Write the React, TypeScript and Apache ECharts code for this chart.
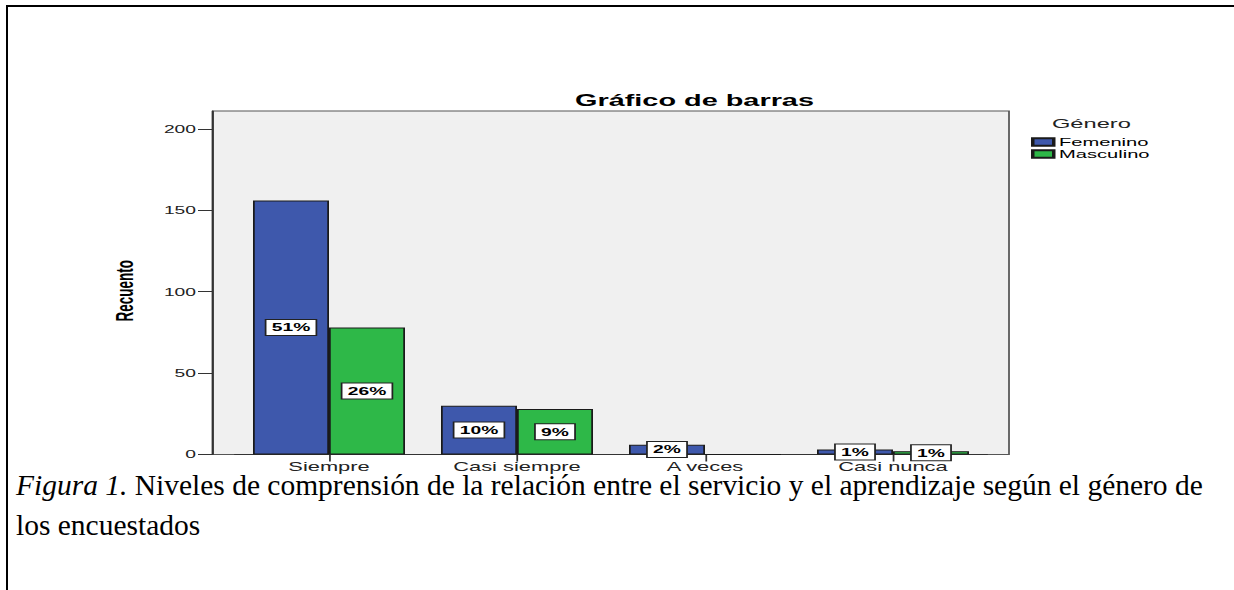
import React, { useEffect, useRef } from 'react';
import * as echarts from 'echarts';

// ---- data ----
const categories = ['Siempre', 'Casi siempre', 'A veces', 'Casi nunca'];
const femenino = [156, 30, 6, 3];
const masculino = [78, 28, 0, 2];
const femeninoPct = ['51%', '10%', '2%', '1%'];
const masculinoPct = ['26%', '9%', '', '1%'];
const yTicks = [0, 50, 100, 150, 200];
const seriesNames = ['Femenino', 'Masculino'];
const chartTitle = 'Gráfico de barras';
const legendTitle = 'Género';
const yName = 'Recuento';
const captionItalic = 'Figura 1.';
const captionLine1 = ' Niveles de comprensión de la relación entre el servicio y el aprendizaje según el género de';
const captionLine2 = 'los encuestados';

// ---- layout (the SPSS picture is stretched horizontally) ----
const W = 705;
const S = 1234 / W;
const px = (x: number) => x / S;
const FONT = 'Liberation Sans, Arial, sans-serif';
const SERIF = '"Liberation Serif", "Times New Roman", serif';

const labelStyle = {
  position: 'inside',
  color: '#000',
  fontWeight: 'bold',
  fontSize: 11,
  fontFamily: FONT,
  backgroundColor: '#fff',
  borderColor: '#222',
  borderWidth: 1,
  padding: [2, 3],
  lineHeight: 11,
};

function makeData(values: number[], labels: string[]) {
  return values.map((v, i) => ({
    value: v,
    label: { show: v > 0 && labels[i] !== '', formatter: labels[i] },
  }));
}

const option: any = {
  animation: false,
  title: [
    {
      text: chartTitle,
      left: px(575),
      top: 92,
      padding: 0,
      textStyle: { fontSize: 16.5, fontWeight: 'bold', color: '#000', fontFamily: FONT },
    },
    {
      text: legendTitle,
      left: px(1052),
      top: 116,
      padding: 0,
      textStyle: { fontSize: 13.5, fontWeight: 'normal', color: '#222', fontFamily: FONT },
    },
  ],
  legend: {
    orient: 'vertical',
    left: px(1031),
    top: 136,
    padding: 0,
    itemWidth: px(21),
    itemHeight: 7.3,
    itemGap: 0,
    icon: 'rect',
    data: seriesNames,
    textStyle: { fontSize: 11.5, lineHeight: 11.3, color: '#000', fontFamily: FONT, padding: [0, 0, 0, -2] },
  },
  grid: {
    left: px(235),
    right: W - px(987),
    top: 111,
    bottom: 590 - 454.5,
    containLabel: false,
  },
  xAxis: {
    type: 'category',
    data: categories,
    axisLine: { show: true, lineStyle: { color: '#333', width: 1.2 } },
    axisTick: { show: true, alignWithLabel: true, length: 7, lineStyle: { color: '#333' } },
    axisLabel: { interval: 0, fontSize: 12.5, color: '#222', margin: 6, fontFamily: FONT },
    splitLine: { show: false },
  },
  yAxis: {
    type: 'value',
    min: 0,
    max: 211,
    interval: 50,
    offset: px(22),
    name: yName,
    nameLocation: 'middle',
    nameRotate: 90,
    nameGap: px(76),
    nameTextStyle: { fontSize: 13.5, fontWeight: 'bold', color: '#000', fontFamily: FONT, padding: [0, 16, 0, 0] },
    axisLine: { show: true, lineStyle: { color: '#333', width: 1.2 } },
    axisTick: { show: true, length: px(15), lineStyle: { color: '#333' }, customValues: yTicks },
    axisLabel: { fontSize: 11, color: '#222', margin: px(17), fontFamily: FONT, customValues: yTicks },
    splitLine: { show: false },
  },
  series: [
    {
      name: seriesNames[0],
      type: 'bar',
      barWidth: px(76),
      barGap: '0%',
      itemStyle: { color: '#3E58AC', borderColor: '#1a1a1a', borderWidth: 1 },
      label: labelStyle,
      data: makeData(femenino, femeninoPct),
    },
    {
      name: seriesNames[1],
      type: 'bar',
      barWidth: px(76),
      barGap: '0%',
      itemStyle: { color: '#2EB848', borderColor: '#1a1a1a', borderWidth: 1 },
      label: labelStyle,
      data: makeData(masculino, masculinoPct),
    },
  ],
  graphic: [
    {
      type: 'rect',
      z: -10,
      silent: true,
      shape: { x: px(213), y: 111, width: px(1009 - 213), height: 343.5 },
      style: { fill: '#f0f0f0', stroke: '#555', lineWidth: 1 },
    },
    {
      type: 'text',
      silent: true,
      x: px(16),
      y: 485,
      scaleX: 1 / S,
      style: {
        text: '{i|' + captionItalic + '}' + captionLine1,
        fill: '#000',
        font: '29.5px ' + SERIF,
        verticalAlign: 'middle',
        rich: {
          i: { fontStyle: 'italic', fontSize: 29.5, fontFamily: SERIF, fill: '#000' },
        },
      },
    },
    {
      type: 'text',
      silent: true,
      x: px(16),
      y: 525,
      scaleX: 1 / S,
      style: {
        text: captionLine2,
        fill: '#000',
        font: '29.5px ' + SERIF,
        verticalAlign: 'middle',
      },
    },
  ],
};

export default function App() {
  const ref = useRef<HTMLDivElement>(null);
  useEffect(() => {
    const chart = echarts.init(ref.current!, null, { renderer: 'svg' });
    chart.setOption(option);
    return () => chart.dispose();
  }, []);
  return (
    <div
      style={{
        position: 'fixed',
        left: 0,
        top: 0,
        width: 1234,
        height: 590,
        overflow: 'hidden',
        background: '#fff',
      }}
    >
      <div style={{ position: 'absolute', left: 6, top: 5, width: 1228, height: 2, background: '#000' }} />
      <div style={{ position: 'absolute', left: 6, top: 5, width: 2, height: 585, background: '#000' }} />
      <div
        ref={ref}
        style={{
          position: 'absolute',
          left: 0,
          top: 0,
          width: W,
          height: 590,
          transform: `scaleX(${S})`,
          transformOrigin: '0 0',
        }}
      />
    </div>
  );
}
